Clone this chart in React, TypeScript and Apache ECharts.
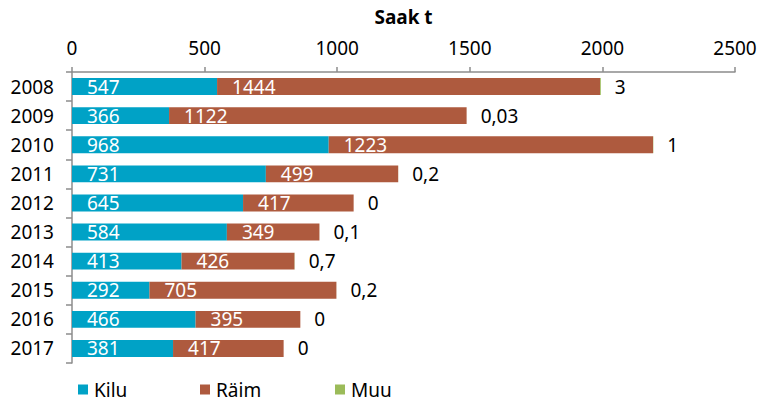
import React, { useEffect, useRef } from "react";
import * as echarts from "echarts";

const years = ["2008", "2009", "2010", "2011", "2012", "2013", "2014", "2015", "2016", "2017"];
const kilu = [547, 366, 968, 731, 645, 584, 413, 292, 466, 381];
const raim = [1444, 1122, 1223, 499, 417, 349, 426, 705, 395, 417];
const muu = [3, 0.03, 1, 0.2, 0, 0.1, 0.7, 0.2, 0, 0];
const xTicks = [0, 500, 1000, 1500, 2000, 2500];

const FONT = "Noto Sans";
const FS = 19;
const C_KILU = "#00a2c6";
const C_RAIM = "#ae5a3e";
const C_MUU = "#9bbb59";
const AXIS = "#8c8c8c";

export default function App() {
  const ref = useRef<HTMLDivElement>(null);
  useEffect(() => {
    if (!ref.current) return;
    const chart = echarts.init(ref.current, undefined, { renderer: "svg" });
    const fmt = (v: number) => String(v).replace(".", ",");
    const legendItem = (name: string, left: number) => ({
      data: [name],
      left,
      top: 380,
      icon: "rect",
      itemWidth: 10,
      itemHeight: 10,
      itemGap: 0,
      padding: 0,
      selectedMode: false,
      textStyle: { fontFamily: FONT, fontSize: FS, color: "#000", padding: [0, 0, 0, 1] },
    });
    chart.setOption({
      animation: false,
      textStyle: { fontFamily: FONT },
      grid: { left: 72, right: 26, top: 72, bottom: 40, containLabel: false, outerBoundsMode: "none" },
      legend: [legendItem("Kilu", 78), legendItem("Räim", 200), legendItem("Muu", 335)],
      xAxis: {
        type: "value",
        position: "top",
        min: xTicks[0],
        max: xTicks[xTicks.length - 1],
        interval: 500,
        name: "Saak t",
        nameLocation: "middle",
        nameGap: 46,
        nameTextStyle: { fontFamily: FONT, fontSize: FS, fontWeight: "bold", color: "#000" },
        axisLine: { show: true, lineStyle: { color: AXIS, width: 1.5 } },
        axisTick: { show: true, length: 5, lineStyle: { color: AXIS, width: 1.5 } },
        axisLabel: {
          fontFamily: FONT,
          fontSize: FS,
          color: "#000",
          margin: 15,
          formatter: (v: number) => String(v),
        },
        splitLine: { show: false },
      },
      yAxis: {
        type: "category",
        data: years,
        inverse: true,
        axisLine: { show: true, lineStyle: { color: AXIS, width: 1.5 } },
        axisTick: { show: true, length: 6, alignWithLabel: false, lineStyle: { color: AXIS, width: 1.5 } },
        axisLabel: { fontFamily: FONT, fontSize: FS, color: "#000", margin: 18 },
        splitLine: { show: false },
      },
      series: [
        {
          name: "Kilu",
          type: "bar",
          stack: "s",
          data: kilu,
          barCategoryGap: "42%",
          itemStyle: { color: C_KILU },
          label: {
            show: true,
            position: "insideLeft",
            distance: 15,
            color: "#fff",
            fontFamily: FONT,
            fontSize: FS,
          },
        },
        {
          name: "Räim",
          type: "bar",
          stack: "s",
          data: raim,
          itemStyle: { color: C_RAIM },
          label: {
            show: true,
            position: "insideLeft",
            distance: 15,
            color: "#fff",
            fontFamily: FONT,
            fontSize: FS,
          },
        },
        {
          name: "Muu",
          type: "bar",
          stack: "s",
          data: muu,
          itemStyle: { color: C_MUU },
          label: {
            show: true,
            position: "right",
            distance: 14,
            color: "#000",
            fontFamily: FONT,
            fontSize: FS,
            formatter: (p: any) => fmt(p.value),
          },
        },
      ],
    });
    return () => chart.dispose();
  }, []);
  return (
    <div
      ref={ref}
      style={{ position: "fixed", left: 0, top: 0, width: 761, height: 403, background: "#fff" }}
    />
  );
}
